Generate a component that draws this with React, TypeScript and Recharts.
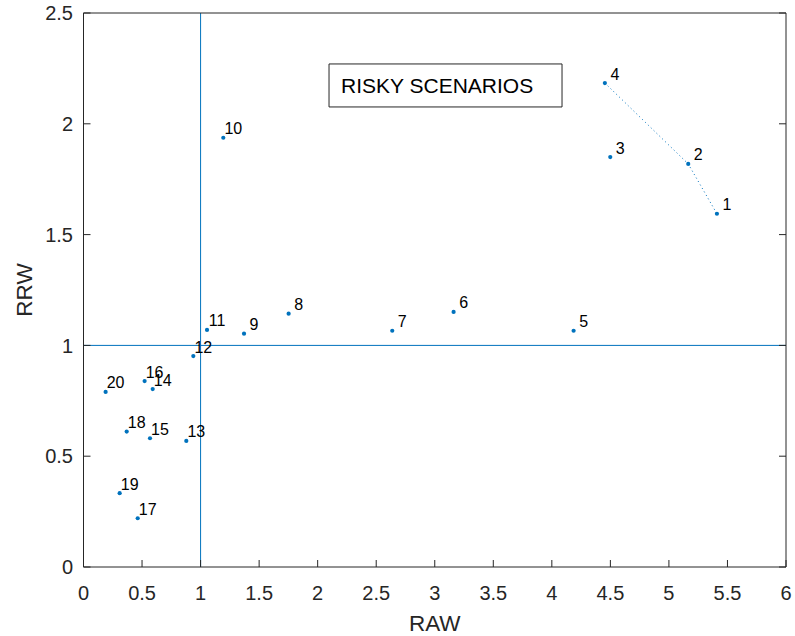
import React from 'react';
import { ScatterChart, Scatter, XAxis, YAxis, ReferenceLine, ReferenceArea } from 'recharts';

const pointIds = ['1', '2', '3', '4', '5', '6', '7', '8', '9', '10', '11', '12', '13', '14', '15', '16', '17', '18', '19', '20'];
const rawValues = [5.41, 5.165, 4.499, 4.453, 4.186, 3.161, 2.637, 1.752, 1.371, 1.194, 1.055, 0.938, 0.878, 0.591, 0.568, 0.522, 0.463, 0.369, 0.309, 0.189];
const rrwValues = [1.594, 1.819, 1.85, 2.184, 1.066, 1.151, 1.066, 1.143, 1.053, 1.937, 1.07, 0.952, 0.569, 0.803, 0.581, 0.839, 0.22, 0.611, 0.333, 0.79];
const linkedIds = ['4', '2', '1'];
const xTicks = [0, 0.5, 1, 1.5, 2, 2.5, 3, 3.5, 4, 4.5, 5, 5.5, 6];
const yTicks = [0, 0.5, 1, 1.5, 2, 2.5];
const thresholdRaw = 1;
const thresholdRrw = 1;
const boxLabel = 'RISKY SCENARIOS';
const boxRaw = [2.097, 4.087];
const boxRrw = [2.076, 2.27];

const points = pointIds.map((id, i) => ({ id, x: rawValues[i], y: rrwValues[i] }));
const linked = linkedIds.map((id) => points.find((p) => p.id === id)!);

const FONT = '"Liberation Sans", Arial, Helvetica, sans-serif';
const AXIS = '#262626';
const BLUE = '#0072BD';
const TICK_LEN = 7;

const BottomTick = (props: any) => {
  const { x, y, payload } = props;
  return (
    <text x={x} y={y + 32.5} textAnchor="middle" fontSize={20} fontFamily={FONT} fill={AXIS}>
      {String(payload.value)}
    </text>
  );
};

const LeftTick = (props: any) => {
  const { x, y, payload } = props;
  return (
    <text x={x - 10.5} y={y + 7.2} textAnchor="end" fontSize={20} fontFamily={FONT} fill={AXIS}>
      {String(payload.value)}
    </text>
  );
};

const NoLabel = () => <g />;

const PointShape = (props: any) => {
  const { cx, cy, payload } = props;
  return (
    <g>
      <circle cx={cx} cy={cy} r={2.1} fill={BLUE} />
      <text x={cx + 10} y={cy - 3.5} textAnchor="middle" fontSize={16} fontFamily={FONT} fill="#000">
        {payload.id}
      </text>
    </g>
  );
};

const EmptyShape = () => <g />;

export default function App() {
  return (
    <div style={{ position: 'absolute', left: 0, top: 0, background: '#fff' }}>
      <ScatterChart width={795} height={636} margin={{ top: 12, right: 8, bottom: 0, left: 0 }}>
        <XAxis
          type="number"
          dataKey="x"
          domain={[0, 6]}
          ticks={xTicks}
          interval={0}
          height={69}
          tickSize={-TICK_LEN}
          tickMargin={TICK_LEN}
          tickLine={{ stroke: AXIS }}
          axisLine={{ stroke: AXIS }}
          tick={<BottomTick />}
          allowDataOverflow
          label={{
            content: (p: any) => {
              const vb = p.viewBox;
              return (
                <text x={vb.x + vb.width / 2} y={vb.y + 63.7} textAnchor="middle" fontSize={22.5} fontFamily={FONT} fill={AXIS}>
                  RAW
                </text>
              );
            },
          }}
        />
        <XAxis
          xAxisId="top"
          orientation="top"
          type="number"
          domain={[0, 6]}
          ticks={xTicks}
          interval={0}
          height={1}
          tickSize={-TICK_LEN}
          tickMargin={TICK_LEN}
          tickLine={{ stroke: AXIS }}
          axisLine={{ stroke: AXIS }}
          tick={<NoLabel />}
          allowDataOverflow
        />
        <YAxis
          type="number"
          dataKey="y"
          domain={[0, 2.5]}
          ticks={yTicks}
          interval={0}
          width={83.5}
          tickSize={-TICK_LEN}
          tickMargin={TICK_LEN}
          tickLine={{ stroke: AXIS }}
          axisLine={{ stroke: AXIS }}
          tick={<LeftTick />}
          allowDataOverflow
          label={{
            content: (p: any) => {
              const vb = p.viewBox;
              const cx = vb.x + 31.7;
              const cy = vb.y + vb.height / 2;
              return (
                <text x={cx} y={cy} textAnchor="middle" fontSize={22.5} fontFamily={FONT} fill={AXIS} transform={`rotate(-90, ${cx}, ${cy})`}>
                  RRW
                </text>
              );
            },
          }}
        />
        <YAxis
          yAxisId="right"
          orientation="right"
          type="number"
          domain={[0, 2.5]}
          ticks={yTicks}
          interval={0}
          width={1}
          tickSize={-TICK_LEN}
          tickMargin={TICK_LEN}
          tickLine={{ stroke: AXIS }}
          axisLine={{ stroke: AXIS }}
          tick={<NoLabel />}
          allowDataOverflow
        />
        <ReferenceLine x={thresholdRaw} stroke={BLUE} strokeWidth={1} />
        <ReferenceLine y={thresholdRrw} stroke={BLUE} strokeWidth={1} />
        <ReferenceArea
          x1={boxRaw[0]}
          x2={boxRaw[1]}
          y1={boxRrw[0]}
          y2={boxRrw[1]}
          fill="#fff"
          fillOpacity={1}
          stroke={AXIS}
          strokeWidth={1}
          label={{
            content: (p: any) => {
              const vb = p.viewBox;
              return (
                <text x={vb.x + 12} y={vb.y + vb.height / 2 + 7.5} fontSize={21} fontFamily={FONT} fill="#000">
                  {boxLabel}
                </text>
              );
            },
          }}
        />
        <Scatter
          data={linked}
          line={{ stroke: BLUE, strokeWidth: 1, strokeDasharray: '1 3' }}
          shape={<EmptyShape />}
          isAnimationActive={false}
        />
        <Scatter data={points} shape={<PointShape />} isAnimationActive={false} />
      </ScatterChart>
    </div>
  );
}
